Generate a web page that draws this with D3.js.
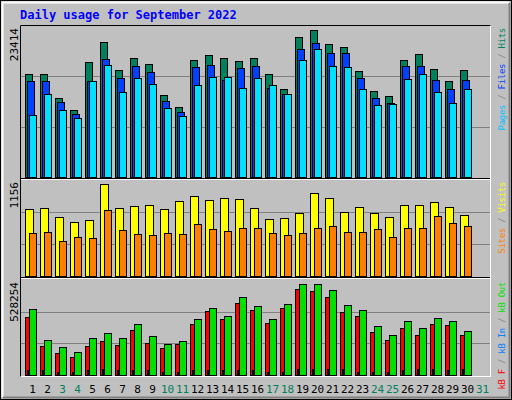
<!DOCTYPE html>
<html><head><meta charset="utf-8">
<script src="https://cdnjs.cloudflare.com/ajax/libs/d3/7.8.5/d3.min.js"></script>
<style>body{margin:0;background:#fff}svg{display:block}text{font-family:"DejaVu Sans Mono",monospace}</style>
</head><body><svg id="viz" width="512" height="400"></svg>
<script>
// values
var days = d3.range(1, 32);
var weekend = [3, 4, 10, 11, 17, 18, 24, 25, 31];
var hits = [15953,15953,12247,10395,17805,20893,16570,18423,17496,12711,10858,18114,18886,18423,17960,18423,15953,13637,21665,22745,20584,20121,16416,13328,12556,18114,19040,16725,14872,16570];
var files = [14872,14872,11630,9777,14872,18268,15335,17188,16261,11784,10086,17033,17342,15026,16879,17188,13791,12865,19812,20738,19195,19195,15335,12247,11476,17188,17188,15026,13637,15026];
var pages = [9623,12865,10395,9160,14872,17342,13174,15335,14409,10704,9469,14254,15490,15490,13791,15335,14254,12865,18114,19812,17188,17033,13637,11167,11321,15181,15953,13174,11476,13637];
var visits = [806,818,709,649,673,1108,818,842,854,806,903,963,915,939,927,818,685,697,758,999,939,770,830,758,709,854,854,890,830,733];
var sites = [516,528,419,467,455,794,552,504,492,516,504,625,564,540,576,576,516,492,516,576,600,528,528,564,467,576,576,721,637,600];
var kbF = [322500,161300,122300,100100,161300,189100,166800,250200,177900,150100,172400,283600,355900,311400,400400,361400,289100,372600,478200,467100,433700,350300,328100,239100,194600,261300,222400,283600,278000,222400];
var kbIn = [27800,27800,16700,16700,27800,33400,27800,27800,27800,16700,16700,27800,27800,27800,27800,27800,16700,16700,33400,33400,33400,33400,16700,16700,16700,27800,33400,33400,27800,33400];
var kbOut = [367000,194600,155700,127900,205700,233500,205700,283600,216900,172400,189100,311400,372600,328100,433700,383700,311400,394800,506000,506000,472600,389200,361400,272500,222400,300300,261300,316900,300300,244700];

var svg = d3.select("#viz");
// frame
svg.append("rect").attr("x", 0).attr("y", 0).attr("width", 512).attr("height", 400).attr("fill", "#c0c0c0");
svg.append("rect").attr("x", 0.5).attr("y", 0.5).attr("width", 511).attr("height", 399).attr("fill", "none").attr("stroke", "#000");
svg.append("path").attr("d", "M2.5,397V2.5H509").attr("fill", "none").attr("stroke", "#fff").attr("stroke-width", 2);
svg.append("path").attr("d", "M3,397.5H509.5V3").attr("fill", "none").attr("stroke", "#808080").attr("stroke-width", 2);

svg.append("text").attr("x", 20).attr("y", 19).attr("fill", "#0000ff").attr("font-weight", "bold")
  .attr("font-size", 12).text("Daily usage for September 2022");

// plot area
svg.append("rect").attr("x", 20.5).attr("y", 25.5).attr("width", 470).attr("height", 351)
  .attr("fill", "#c0c0c0").attr("stroke", "#fff");
svg.append("path").attr("d", "M20.5,376.5V25.5H490.5").attr("fill", "none").attr("stroke", "#000");
[179.5, 278.5].forEach(function (y) {
  svg.append("line").attr("x1", 21).attr("x2", 490).attr("y1", y - 1).attr("y2", y - 1).attr("stroke", "#000");
  svg.append("line").attr("x1", 21).attr("x2", 490).attr("y1", y).attr("y2", y).attr("stroke", "#fff");
});

var x = d3.scaleBand().domain(days).range([21, 486]).paddingInner(0).paddingOuter(0);

function panel(top, bottom, max, label, legend, series) {
  var y = d3.scaleLinear().domain([0, max]).range([bottom, top]);
  [1 / 3, 2 / 3].forEach(function (f) {
    var yy = Math.round(bottom - (bottom - top) * f) + 0.5;
    svg.append("line").attr("x1", 21).attr("x2", 490).attr("y1", yy).attr("y2", yy).attr("stroke", "#808080");
  });
  series.forEach(function (s) {
    svg.append("g").selectAll("rect").data(s.data).join("rect")
      .attr("x", function (d, i) { return x(days[i]) + 4.5 + s.off; })
      .attr("y", function (d) { return Math.round(y(d)) + 0.5; })
      .attr("width", s.w)
      .attr("height", function (d) { return bottom - Math.round(y(d)); })
      .attr("fill", s.color).attr("stroke", "#000");
  });
  svg.append("text").attr("transform", "translate(18," + (top + 2) + ") rotate(-90)")
    .attr("text-anchor", "end").attr("font-size", 11).attr("fill", "#000").text(label);
  var t = svg.append("text").attr("transform", "translate(505," + (top + 2) + ") rotate(-90)")
    .attr("text-anchor", "end").attr("font-size", 9).attr("letter-spacing", -0.3);
  legend.forEach(function (l, i) {
    if (i) t.append("tspan").attr("fill", "#808080").text(" / ");
    t.append("tspan").attr("fill", l[1]).text(l[0]);
  });
}

panel(26, 177, 23414, "23414", [["Pages", "#00c0ff"], ["Files", "#0040ff"], ["Hits", "#00805c"]], [
  { data: hits, color: "#00805c", off: 0, w: 7 },
  { data: files, color: "#0040ff", off: 2, w: 7 },
  { data: pages, color: "#00e0ff", off: 4, w: 7 }
]);
panel(180, 276, 1156, "1156", [["Sites", "#ff8000"], ["Visits", "#ffff00"]], [
  { data: visits, color: "#ffff00", off: 0, w: 8 },
  { data: sites, color: "#ff8000", off: 4, w: 7 }
]);
panel(280, 375, 528254, "528254", [["kB F", "#ff0000"], ["kB In", "#0080ff"], ["kB Out", "#00e000"]], [
  { data: kbF, color: "#ff0000", off: 0, w: 7 },
  { data: kbIn, color: "#0080ff", off: 2, w: 1 },
  { data: kbOut, color: "#00e000", off: 4, w: 7 }
]);

svg.append("g").selectAll("text").data(days).join("text")
  .attr("x", function (d) { return x(d) + x.bandwidth() / 2 + 4; })
  .attr("y", 393).attr("text-anchor", "middle").attr("font-size", 11)
  .attr("fill", function (d) { return weekend.indexOf(d) >= 0 ? "#00805c" : "#000"; })
  .text(function (d) { return d; });
</script></body></html>
